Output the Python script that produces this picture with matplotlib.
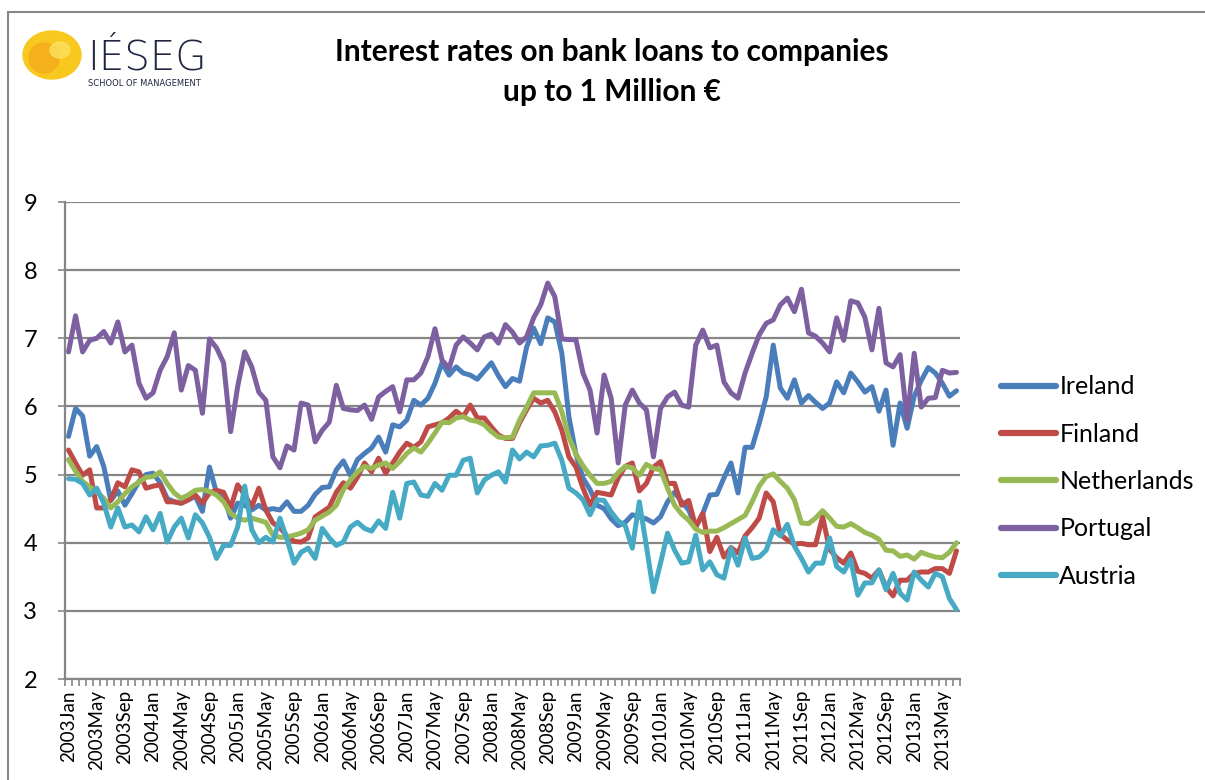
import matplotlib
matplotlib.use('Agg')
import matplotlib.pyplot as plt
from matplotlib.patches import Ellipse, Rectangle
import numpy as np

# monthly data 2003Jan .. 2013Jul
months = ['Jan', 'Feb', 'Mar', 'Apr', 'May', 'Jun', 'Jul', 'Aug', 'Sep', 'Oct', 'Nov', 'Dec']
n_months = 127
dates = [str(2003 + k // 12) + months[k % 12] for k in range(n_months)]

series_names = ['Ireland', 'Finland', 'Netherlands', 'Portugal', 'Austria']

ireland = [5.56, 5.97, 5.86, 5.27, 5.41, 5.12, 4.62, 4.76, 4.55, 4.72,
           4.90, 5.00, 5.02, 4.88, 4.65, 4.60, 4.58, 4.63, 4.68, 4.46,
           5.11, 4.73, 4.70, 4.36, 4.58, 4.55, 4.48, 4.55, 4.48, 4.50,
           4.48, 4.60, 4.46, 4.46, 4.55, 4.71, 4.81, 4.82, 5.07, 5.20,
           4.99, 5.22, 5.31, 5.39, 5.55, 5.33, 5.73, 5.70, 5.80, 6.09,
           6.02, 6.12, 6.34, 6.64, 6.46, 6.58, 6.49, 6.46, 6.40, 6.52,
           6.64, 6.45, 6.29, 6.41, 6.37, 6.87, 7.15, 6.92, 7.30, 7.24,
           6.78, 5.85, 5.30, 4.95, 4.78, 4.55, 4.50, 4.35, 4.25, 4.30,
           4.41, 4.38, 4.35, 4.29, 4.38, 4.60, 4.74, 4.60, 4.48, 4.23,
           4.43, 4.70, 4.71, 4.95, 5.17, 4.73, 5.40, 5.40, 5.75, 6.14,
           6.90, 6.27, 6.12, 6.39, 6.05, 6.16, 6.06, 5.97, 6.05, 6.36,
           6.20, 6.49, 6.36, 6.21, 6.29, 5.93, 6.24, 5.43, 6.05, 5.68,
           6.15, 6.38, 6.57, 6.49, 6.34, 6.15, 6.23]

finland = [5.36, 5.17, 4.99, 5.07, 4.51, 4.51, 4.63, 4.88, 4.82, 5.07,
           5.04, 4.80, 4.83, 4.85, 4.60, 4.60, 4.58, 4.63, 4.70, 4.58,
           4.73, 4.77, 4.74, 4.51, 4.85, 4.70, 4.53, 4.80, 4.48, 4.29,
           4.22, 4.10, 4.02, 4.01, 4.07, 4.38, 4.45, 4.52, 4.74, 4.88,
           4.80, 4.96, 5.17, 5.04, 5.24, 5.02, 5.17, 5.33, 5.46, 5.40,
           5.48, 5.70, 5.73, 5.76, 5.83, 5.93, 5.85, 6.02, 5.83, 5.83,
           5.70, 5.58, 5.53, 5.53, 5.76, 5.95, 6.12, 6.05, 6.09, 5.92,
           5.65, 5.26, 5.11, 4.80, 4.55, 4.74, 4.72, 4.70, 4.95, 5.12,
           5.17, 4.76, 4.87, 5.11, 5.19, 4.87, 4.87, 4.55, 4.62, 4.23,
           4.43, 3.87, 4.08, 3.79, 3.93, 3.85, 4.10, 4.22, 4.36, 4.73,
           4.60, 4.12, 4.04, 3.98, 3.99, 3.97, 3.97, 4.38, 3.90, 3.78,
           3.70, 3.85, 3.58, 3.55, 3.48, 3.60, 3.35, 3.22, 3.45, 3.45,
           3.55, 3.57, 3.57, 3.62, 3.62, 3.55, 3.88]

netherlands = [5.22, 5.05, 4.90, 4.82, 4.75, 4.65, 4.51, 4.60, 4.72, 4.82,
               4.89, 4.96, 4.97, 5.04, 4.87, 4.73, 4.65, 4.70, 4.77, 4.78,
               4.75, 4.70, 4.60, 4.43, 4.36, 4.33, 4.36, 4.33, 4.30, 4.11,
               4.08, 4.08, 4.11, 4.14, 4.19, 4.33, 4.39, 4.45, 4.55, 4.78,
               4.92, 5.04, 5.12, 5.09, 5.14, 5.17, 5.09, 5.19, 5.31, 5.39,
               5.33, 5.46, 5.61, 5.77, 5.76, 5.83, 5.85, 5.80, 5.78, 5.73,
               5.63, 5.55, 5.54, 5.55, 5.80, 5.99, 6.20, 6.20, 6.20, 6.20,
               5.92, 5.55, 5.30, 5.13, 4.99, 4.87, 4.87, 4.90, 5.03, 5.12,
               5.10, 4.99, 5.15, 5.09, 5.07, 4.80, 4.55, 4.42, 4.33, 4.20,
               4.15, 4.17, 4.17, 4.22, 4.28, 4.34, 4.40, 4.60, 4.83, 4.97,
               5.01, 4.90, 4.80, 4.63, 4.29, 4.28, 4.36, 4.47, 4.36, 4.24,
               4.23, 4.28, 4.22, 4.15, 4.11, 4.05, 3.89, 3.88, 3.80, 3.82,
               3.76, 3.86, 3.82, 3.79, 3.78, 3.86, 4.00]

portugal = [6.80, 7.33, 6.80, 6.97, 7.00, 7.10, 6.93, 7.24, 6.80, 6.90,
            6.34, 6.12, 6.20, 6.53, 6.73, 7.08, 6.24, 6.60, 6.53, 5.90,
            6.99, 6.86, 6.64, 5.63, 6.29, 6.80, 6.58, 6.21, 6.09, 5.26,
            5.10, 5.42, 5.36, 6.05, 6.02, 5.48, 5.65, 5.77, 6.31, 5.97,
            5.95, 5.94, 6.02, 5.81, 6.14, 6.22, 6.29, 5.92, 6.39, 6.39,
            6.49, 6.73, 7.14, 6.68, 6.56, 6.90, 7.02, 6.93, 6.83, 7.02,
            7.06, 6.93, 7.20, 7.09, 6.93, 7.02, 7.30, 7.49, 7.81, 7.61,
            6.99, 6.98, 6.98, 6.49, 6.24, 5.61, 6.46, 6.12, 5.17, 6.02,
            6.24, 6.05, 5.95, 5.26, 5.97, 6.14, 6.21, 6.02, 5.99, 6.90,
            7.12, 6.86, 6.90, 6.36, 6.20, 6.12, 6.49, 6.78, 7.05, 7.22,
            7.27, 7.49, 7.59, 7.39, 7.72, 7.08, 7.03, 6.93, 6.80, 7.30,
            6.97, 7.55, 7.52, 7.31, 6.83, 7.44, 6.64, 6.58, 6.76, 5.80,
            6.78, 5.99, 6.12, 6.13, 6.53, 6.49, 6.50]

austria = [4.94, 4.93, 4.87, 4.70, 4.80, 4.58, 4.23, 4.51, 4.23, 4.26,
           4.16, 4.38, 4.19, 4.43, 4.01, 4.23, 4.36, 4.07, 4.41, 4.29,
           4.08, 3.77, 3.96, 3.96, 4.23, 4.83, 4.19, 4.00, 4.08, 4.01,
           4.36, 4.05, 3.70, 3.86, 3.92, 3.77, 4.21, 4.07, 3.96, 4.01,
           4.23, 4.30, 4.21, 4.17, 4.32, 4.21, 4.74, 4.36, 4.87, 4.89,
           4.70, 4.68, 4.87, 4.77, 4.99, 4.99, 5.21, 5.24, 4.73, 4.92,
           4.99, 5.04, 4.89, 5.36, 5.23, 5.33, 5.26, 5.42, 5.43, 5.46,
           5.21, 4.80, 4.73, 4.63, 4.41, 4.63, 4.62, 4.45, 4.32, 4.25,
           3.92, 4.60, 3.95, 3.28, 3.70, 4.14, 3.89, 3.70, 3.72, 4.11,
           3.60, 3.72, 3.53, 3.48, 3.92, 3.67, 4.07, 3.77, 3.79, 3.89,
           4.19, 4.10, 4.27, 3.95, 3.77, 3.57, 3.70, 3.70, 4.07, 3.65,
           3.57, 3.75, 3.23, 3.41, 3.41, 3.60, 3.31, 3.55, 3.26, 3.16,
           3.57, 3.45, 3.35, 3.55, 3.50, 3.18, 3.02]

colors = ['#4A7EBB', '#BE4B48', '#98B954', '#7D60A0', '#46AAC5']
grid_col = '#868686'

font = 'Lato'

fig = plt.figure(figsize=(12.05, 7.8), dpi=100)

# chart area border
fig.patches.append(Rectangle((8 / 1205, -0.05), 1.2, 1 - 12 / 780 + 0.05,
                             transform=fig.transFigure, fill=False,
                             edgecolor=grid_col, linewidth=1.5))

ax = fig.add_axes([65 / 1205, 1 - 679 / 780, (960 - 65) / 1205, (679 - 202) / 780])

x = np.arange(n_months)
all_series = [ireland, finland, netherlands, portugal, austria]
for name, vals, c in zip(series_names, all_series, colors):
    ax.plot(x, vals, color=c, linewidth=3.6, label=name,
            solid_joinstyle='round', solid_capstyle='round')

ax.set_xlim(-0.5, n_months - 0.5)
ax.set_ylim(2, 9)
ax.set_yticks(range(2, 10))
ax.yaxis.grid(True, color=grid_col, linewidth=1.6)
ax.set_axisbelow(True)

ax.set_xticks(x[::4])
ax.set_xticklabels(dates[::4], rotation=90, fontsize=13.5, family=font)
ax.set_xticks(np.arange(-0.5, n_months, 1), minor=True)
ax.tick_params(axis='x', which='major', length=0, pad=8)
ax.tick_params(axis='x', which='minor', length=5, width=1.2, color=grid_col, direction='out')
ax.tick_params(axis='y', length=5, width=1.2, color=grid_col, pad=15, labelsize=17)
for lbl in ax.get_yticklabels():
    lbl.set_family(font)

for s in ['top', 'right']:
    ax.spines[s].set_visible(False)
ax.spines['left'].set_color(grid_col)
ax.spines['left'].set_linewidth(1.6)
ax.spines['bottom'].set_color(grid_col)
ax.spines['bottom'].set_linewidth(1.6)

leg = ax.legend(loc='upper left', bbox_to_anchor=(978 / 1205, 1 - 353 / 780),
                bbox_transform=fig.transFigure, frameon=False,
                prop={'family': font, 'size': 18}, handlelength=2.2,
                handletextpad=0.15, labelspacing=0.97)
for line in leg.get_lines():
    line.set_linewidth(4.5)

# title
fig.text(612 / 1205, 1 - 52 / 780, 'Interest rates on bank loans to companies',
         ha='center', va='center', fontsize=21.5, fontweight='bold', family=font)
fig.text(612 / 1205, 1 - 92 / 780, 'up to 1 Million €',
         ha='center', va='center', fontsize=21.5, fontweight='bold', family=font)

# IESEG logo
lax = fig.add_axes([22 / 1205, 1 - 90 / 780, 190 / 1205, 62 / 780])
lax.set_xlim(22, 212)
lax.set_ylim(90, 28)
lax.axis('off')
lax.add_patch(Ellipse((52, 55), 58, 48, color='#F9C81E'))
lax.add_patch(Ellipse((44, 58), 30, 30, color='#F2A81C', alpha=0.7))
lax.add_patch(Ellipse((60, 50), 20, 16, color='#FCE060', alpha=0.8))
lax.text(87, 69, 'IÉSEG', fontsize=29, color='#1F2540', va='baseline', ha='left',
         family='DejaVu Sans', fontweight='light')
lax.text(88, 79.5, 'SCHOOL OF MANAGEMENT', fontsize=6.0, color='#1F2540', va='top', ha='left')

fig.savefig('out.png', dpi=100)
